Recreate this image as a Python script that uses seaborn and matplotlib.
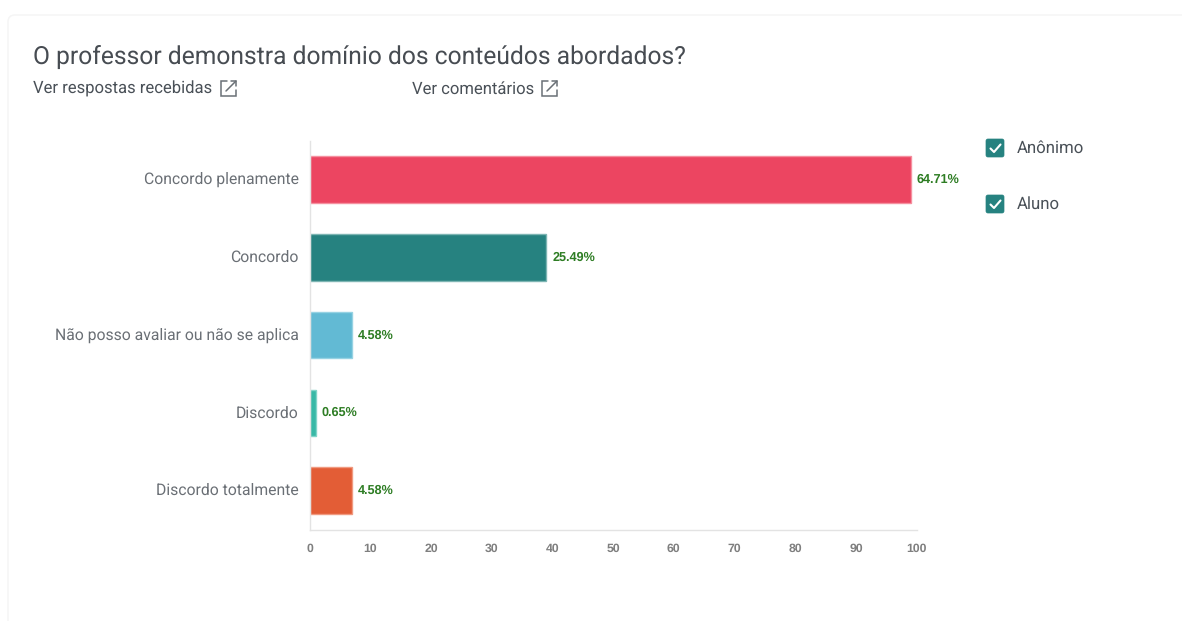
import matplotlib
matplotlib.use("Agg")
import matplotlib.pyplot as plt
from matplotlib.patches import FancyBboxPatch
from matplotlib.transforms import ScaledTranslation
import pandas as pd
import seaborn as sns

categories = ["Concordo plenamente", "Concordo", "Não posso avaliar ou não se aplica", "Discordo", "Discordo totalmente"]
counts = [99, 39, 7, 1, 7]
percent_labels = ["64.71%", "25.49%", "4.58%", "0.65%", "4.58%"]
bar_colors = ["#EC4561", "#268280", "#62BAD4", "#38B8A6", "#E35D36"]
edge_colors = ["#F5909F", "#7DB5B3", "#96D2E3", "#80D5C9", "#F09A80"]
x_ticks = [0, 10, 20, 30, 40, 50, 60, 70, 80, 90, 100]
title = "O professor demonstra domínio dos conteúdos abordados?"
links = ["Ver respostas recebidas", "Ver comentários"]
legend_items = ["Anônimo", "Aluno"]

W, H = 1182, 621
sns.set_theme(style="white")
plt.rcParams["font.family"] = ["Roboto", "DejaVu Sans"]
plt.rcParams["text.hinting"] = "no_hinting"

fig = plt.figure(figsize=(W / 100, H / 100), dpi=100, facecolor="white")

# page overlay in pixel coordinates: card, icons, checkboxes
bg = fig.add_axes([0, 0, 1, 1], zorder=0)
bg.set_xlim(0, W)
bg.set_ylim(H, 0)
bg.axis("off")
bg.add_patch(FancyBboxPatch((8, 15), 1300, 800, boxstyle="round,pad=0,rounding_size=7",
                            fc="white", ec="#F5F5F5", lw=1.1))

bg.text(33, 57, title, fontsize=17.7, color="#474C52", va="center", ha="left")
for label, x0, ix in zip(links, (33, 412), (221, 542)):
    bg.text(x0, 89, label, fontsize=12, color="#495057", va="center", ha="left")
    bg.plot([ix + 6, ix, ix, ix + 15, ix + 15], [81, 81, 96, 96, 90], color="#6A7076", lw=1.1,
            solid_joinstyle="miter")
    bg.plot([ix + 5, ix + 15], [91, 81], color="#6A7076", lw=1.1)
    bg.plot([ix + 10, ix + 15, ix + 15], [81, 81, 86], color="#6A7076", lw=1.1)

for label, cy in zip(legend_items, (148, 204)):
    bg.add_patch(FancyBboxPatch((986, cy - 9), 18, 18, boxstyle="round,pad=0,rounding_size=2",
                                fc="#268280", ec="#268280", lw=0.5))
    bg.plot([990.5, 994, 1000.5], [cy + 0.5, cy + 4, cy - 3.5], color="white", lw=1.5)
    bg.text(1017, cy + 0.5, label, fontsize=12.1, color="#495057", va="center", ha="left")

# chart
ax = fig.add_axes([309.6 / W, 1 - 529.6 / H, (917 - 310) / W, (530 - 141) / H], zorder=1)
ax.patch.set_alpha(0)
df = pd.DataFrame({"categoria": categories, "respostas": counts})
sns.barplot(data=df, y="categoria", x="respostas", hue="categoria", order=categories,
            hue_order=categories, palette=bar_colors, width=0.6, dodge=False,
            legend=False, saturation=1, ax=ax)
for bar, edge in zip(ax.patches, edge_colors):
    bar.set_edgecolor(edge)
    bar.set_linewidth(1.0)

ax.set_xlim(0, 100)
ax.set_ylim(4.5, -0.5)
ax.set_xlabel("")
ax.set_ylabel("")
ax.set_xticks(x_ticks)
ax.tick_params(axis="x", length=0, pad=9.5, labelsize=8.8, labelcolor="#7F7F7F")
ax.tick_params(axis="y", length=0, pad=8, labelsize=11.3, labelcolor="#6A6F75")
for t in ax.get_xticklabels():
    t.set_fontweight("bold")
    t.set_fontfamily(["Liberation Sans"])
shift_up = ScaledTranslation(0, 1.5 / 100, fig.dpi_scale_trans)
for t in ax.get_yticklabels():
    t.set_verticalalignment("center_baseline")
    t.set_transform(t.get_transform() + shift_up)
for name in ("top", "right"):
    ax.spines[name].set_visible(False)
for name in ("left", "bottom"):
    ax.spines[name].set_color("#E3E3E3")
    ax.spines[name].set_linewidth(1)

for i, (value, text) in enumerate(zip(counts, percent_labels)):
    ax.annotate(text, xy=(value, i), xytext=(6, 0), textcoords="offset pixels", va="center",
                ha="left", fontsize=9.1, fontweight="bold", color="#2E7D24",
                family=["Liberation Sans"], annotation_clip=False)

fig.savefig("out.png", dpi=100, facecolor="white")
